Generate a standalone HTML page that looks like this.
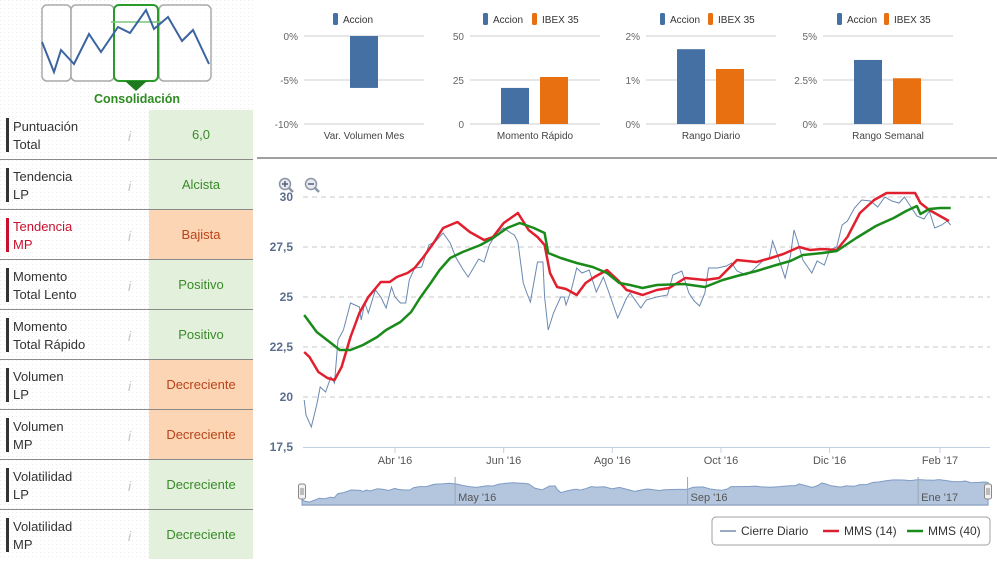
<!DOCTYPE html>
<html><head><meta charset="utf-8">
<style>
html,body{margin:0;padding:0;background:#fff;}
body{width:997px;height:559px;overflow:hidden;font-family:"Liberation Sans",sans-serif;}
svg text{font-family:"Liberation Sans",sans-serif;}
</style></head>
<body>
<svg id="root" width="997" height="559" viewBox="0 0 997 559" xmlns="http://www.w3.org/2000/svg">
  <defs>
    <pattern id="dots" width="4" height="4" patternUnits="userSpaceOnUse"><rect x="0" y="0" width="1" height="1" fill="#ececec"/></pattern>
  </defs>
  <rect x="0" y="0" width="255" height="559" fill="url(#dots)"/>
  <g>
    <rect x="42" y="5" width="29" height="76" rx="5" fill="#fff" fill-opacity="0.6" stroke="#aaa" stroke-width="1.5"/>
    <rect x="71" y="5" width="43" height="76" rx="5" fill="#fff" fill-opacity="0.6" stroke="#aaa" stroke-width="1.5"/>
    <rect x="159" y="5" width="52" height="76" rx="5" fill="#fff" fill-opacity="0.6" stroke="#aaa" stroke-width="1.5"/>
    <rect x="114" y="5" width="44" height="76" rx="5" fill="#fff" fill-opacity="0.6" stroke="#2a9a2a" stroke-width="2"/>
    <line x1="111" y1="22" x2="161" y2="22" stroke="#7cc47c" stroke-width="1.5"/>
    <polyline points="42,42 54,72 61,50 74,64 89,34 101,52 118,27 130,33 146,10 154,29 168,17 182,41 193,30 209,64" fill="none" stroke="#3a64a0" stroke-width="2"/>
    <polygon points="125,81 147,81 136,91" fill="#1e7a1e"/>
    <text x="137" y="103" text-anchor="middle" font-size="12.5" font-weight="bold" fill="#2e8b22">Consolidación</text>
  </g>
  <g id="table"></g>
  <g id="mini"></g>
  <line x1="257" y1="158" x2="997" y2="158" stroke="#a0a0a0" stroke-width="2"/>
  <g>
    <circle cx="285" cy="184" r="5.5" fill="#e8eaf0" stroke="#8a94a8" stroke-width="1.5"/>
    <line x1="289" y1="188" x2="293" y2="192" stroke="#8a94a8" stroke-width="2.5"/>
    <line x1="282" y1="184" x2="288" y2="184" stroke="#55607a" stroke-width="1.5"/>
    <line x1="285" y1="181" x2="285" y2="187" stroke="#55607a" stroke-width="1.5"/>
  </g>
  <g>
    <circle cx="311" cy="184" r="5.5" fill="#e8eaf0" stroke="#8a94a8" stroke-width="1.5"/>
    <line x1="315" y1="188" x2="319" y2="192" stroke="#8a94a8" stroke-width="2.5"/>
    <line x1="308" y1="184" x2="314" y2="184" stroke="#55607a" stroke-width="1.5"/>
  </g>
  <g id="main"></g>
  <g id="nav"></g>
  <g>
    <rect x="712" y="517" width="278" height="28" rx="4" fill="#fff" stroke="#a0a0a0"/>
    <g>
      <line x1="720" y1="531" x2="736" y2="531" stroke="#9aaac0" stroke-width="2"/>
      <text x="741" y="535" font-size="12" fill="#333">Cierre Diario</text>
    </g>
    <g>
      <line x1="823" y1="531" x2="839" y2="531" stroke="#d8202e" stroke-width="2.5"/>
      <text x="844" y="535" font-size="12" fill="#333">MMS (14)</text>
    </g>
    <g>
      <line x1="907" y1="531" x2="923" y2="531" stroke="#1a8a1a" stroke-width="2.5"/>
      <text x="928" y="535" font-size="12" fill="#333">MMS (40)</text>
    </g>
  </g>
</svg>
<script>
const rowLabels1 = ["Puntuación","Tendencia","Tendencia","Momento","Momento","Volumen","Volumen","Volatilidad","Volatilidad"];
const rowLabels2 = ["Total","LP","MP","Total Lento","Total Rápido","LP","MP","LP","MP"];
const rowValues = ["6,0","Alcista","Bajista","Positivo","Positivo","Decreciente","Decreciente","Decreciente","Decreciente"];
const rowGood = [1,1,0,1,1,0,0,1,1];

const miniTitles = ["Var. Volumen Mes","Momento Rápido","Rango Diario","Rango Semanal"];
const miniAccion = [-5.9,20.5,1.70,3.64];
const miniIbex = [null,26.7,1.25,2.6];
const miniTickLabels = [["0%","-5%","-10%"],["50","25","0"],["2%","1%","0%"],["5%","2.5%","0%"]];
const miniMax = [0,50,2,5];
const miniMin = [-10,0,0,0];

const closeDays = [0,1,4,7,9,12,15,17,19,22,26,31,32,34,36,40,43,46,49,51,54,57,59,62,66,70,74,78,82,85,89,92,95,98,101,104,108,112,116,118,120,123,125,127,131,134,135,137,140,144,146,147,150,153,156,160,164,168,172,176,181,183,189,192,198,204,207,212,216,219,222,225,227,232,237,240,243,248,252,258,261,263,266,270,273,275,277,280,285,288,292,295,299,302,305,309,313,318,322,326,330,334,337,340,344,348,351,354,358,361,363];
const closeVals = [19.85,19.1,18.5,19.6,20.5,20.25,21,20.7,22.85,23.35,24.7,24.5,23.85,24.7,24.2,25.35,25,24.45,25.5,25,24.7,24.7,25.85,26.45,26.5,27.6,27.8,28.2,27.7,27,26.4,26,26.45,26.9,26.75,27.6,28.2,28.45,28.2,28.1,27.75,25.7,25.2,24.75,26.75,26.75,25,23.35,24.2,25,25,24.6,25.35,26.45,26.2,26.35,25.25,26,25,23.95,24.95,25.2,24.45,24.85,25,25.1,26.1,26.3,25.2,24.8,24.55,25.2,26.45,26.45,26.55,26.7,26.3,26.1,26.35,26.85,26.9,27.8,27.05,25.95,27.05,28.35,27.8,26.85,26.2,26.8,26.6,27.35,27.5,28.6,28.8,29.45,29.85,29.8,29.5,30,29.8,29.7,30,29.6,29.05,28.9,29.3,28.45,28.6,28.8,28.6];
const mms14Days = [0,3,8,13,17,21,26,31,36,43,48,52,58,62,67,73,78,86,93,101,106,112,120,126,131,135,138,142,147,153,158,163,170,176,181,183,190,198,205,214,225,233,243,254,262,269,278,284,291,299,305,312,320,327,334,343,346,351,357,362];
const mms14Vals = [22.25,22,21.25,20.95,20.85,21.5,23,24.2,25,25.75,25.75,26,26.2,26.45,27,27.75,28.45,28.75,28.25,27.85,28,28.7,29.2,28.35,28,27.6,26.2,25.5,25.4,25.1,25.7,26,26.35,25.85,25.35,25.3,25.1,25.35,25.45,25.95,25.85,25.95,26.85,26.75,26.95,27.15,27.5,27.35,27.4,27.35,28,29.2,29.85,30.2,30.2,30.2,29.7,29.35,29.05,28.8];
const mms40Days = [0,7,15,20,26,33,41,46,54,60,65,71,76,82,89,99,106,114,121,129,135,137,144,153,162,170,177,183,190,198,213,225,235,243,254,265,273,280,291,299,310,321,331,338,344,346,351,357,363];
const mms40Vals = [24.1,23.25,22.7,22.35,22.35,22.6,23,23.35,23.75,24.25,24.95,25.7,26.35,26.95,27.25,27.6,27.95,28.45,28.7,28.45,28.2,27.2,26.95,26.7,26.5,26.2,25.7,25.6,25.45,25.6,25.65,25.5,25.85,26.05,26.3,26.6,26.8,27.1,27.2,27.3,27.95,28.55,28.95,29.3,29.55,29.15,29.4,29.45,29.45];
const yTicks = [30,27.5,25,22.5,20,17.5];
const yTickLabels = ["30","27,5","25","22,5","20","17,5"];
const xTickDays = [51,112,173,234,295,357];
const xTickLabels = ["Abr '16","Jun '16","Ago '16","Oct '16","Dic '16","Feb '17"];
const navTickDays = [81,204,326];
const navTickLabels = ["May '16","Sep '16","Ene '17"];

const NS = "http://www.w3.org/2000/svg";
function mk(parent, tag, attrs, text){
  const el = document.createElementNS(NS, tag);
  for (const k in attrs) el.setAttribute(k, attrs[k]);
  if (text !== undefined) el.textContent = text;
  parent.appendChild(el);
  return el;
}

const tbl = document.getElementById('table');
for (let i=0;i<rowValues.length;i++){
  const y0 = 110 + i*50;
  const g = mk(tbl,'g',{});
  
  
  const red = (i===2);
  mk(g,'rect',{x:149,y:y0,width:104,height:50,fill: rowGood[i] ? '#e2f0dc' : '#fcd5b5'});
  mk(g,'rect',{x:6,y:y0+8,width:3,height:34,fill: red ? '#c8102e' : '#333'});
  mk(g,'text',{x:13,y:y0+21,'font-size':13,fill: red ? '#c8102e' : '#333'}, rowLabels1[i]);
  mk(g,'text',{x:13,y:y0+39,'font-size':13,fill: red ? '#c8102e' : '#333'}, rowLabels2[i]);
  const info = mk(g,'text',{x:128,y:y0+31,'font-size':14,'font-style':'italic','font-family':'Liberation Serif',fill:'#c4c4c4'}, 'i');
  
  
  const vt = mk(g,'text',{x:201,y:y0+29,'font-size':13,'text-anchor':'middle',fill: rowGood[i] ? '#3a8a2a' : '#b8441a'}, rowValues[i]);
  
  
  if (i>0) mk(g,'line',{x1:0,y1:y0-0.5,x2:253,y2:y0-0.5,stroke:'#8a8a8a','stroke-width':1});
}

const mini = document.getElementById('mini');
const miniGrid = [[304,424],[470,600],[646,776],[823,953]];
const miniLeg = [[333,null],[483,532],[660,708],[837,884]];
for (let c=0;c<4;c++){
  const g = mk(mini,'g',{});
  
  
  const [gx0,gx1] = miniGrid[c];
  const yS = v => 36 + (miniMax[c]-v)/(miniMax[c]-miniMin[c])*88;
  for (let t=0;t<3;t++){
    const yy = 36 + t*44;
    mk(g,'line',{x1:gx0,y1:yy,x2:gx1,y2:yy,stroke:'#c8ccd2','stroke-width':1});
    mk(g,'text',{x:gx0-6,y:yy+4,'font-size':10,'text-anchor':'end',fill:'#666'}, miniTickLabels[c][t]);
  }
  const base = yS(Math.max(miniMin[c], Math.min(0, miniMax[c])));
  const mid = (gx0+gx1)/2;
  const bw = 28;
  const hasI = miniIbex[c] !== null;
  const ya = yS(miniAccion[c]);
  const b1 = mk(g,'rect',{x:hasI?mid-34:350 - (364-mid),y:Math.min(ya,base),width:bw,height:Math.abs(ya-base),fill:'#4470a4'});
  
  
  if (hasI){
    const yi = yS(miniIbex[c]);
    const b2 = mk(g,'rect',{x:mid+5,y:Math.min(yi,base),width:bw,height:Math.abs(yi-base),fill:'#e87010'});
    
    
  }
  mk(g,'text',{x:mid,y:139,'font-size':10,'text-anchor':'middle',fill:'#444'}, miniTitles[c]);
  const lx = miniLeg[c][0];
  mk(g,'rect',{x:lx,y:13,width:5,height:12,rx:1.5,fill:'#4470a4'});
  mk(g,'text',{x:lx+10,y:23,'font-size':10,fill:'#333'}, 'Accion');
  if (miniLeg[c][1]!==null){
    const lx2 = miniLeg[c][1];
    mk(g,'rect',{x:lx2,y:13,width:5,height:12,rx:1.5,fill:'#e87010'});
    mk(g,'text',{x:lx2+10,y:23,'font-size':10,fill:'#333'}, 'IBEX 35');
  }
}

const main = document.getElementById('main');
const xS = d => 304.2 + d*1.781;
const yS = v => 197 + (30 - v)*20;
yTicks.forEach((v,i)=>{
  if (v>17.5){
    const gl = mk(main,'line',{x1:303,y1:yS(v),x2:990,y2:yS(v),stroke:'#c8c8c8','stroke-dasharray':'5,4','stroke-width':1});
    
    
  }
  const t = mk(main,'text',{x:293,y:yS(v)+4,'font-size':12,'font-weight':'bold','text-anchor':'end',fill:'#5a6e8c'}, yTickLabels[i]);
  
  
});
mk(main,'line',{x1:303,y1:447.5,x2:990,y2:447.5,stroke:'#c0d0e0','stroke-width':1});
xTickDays.forEach((d,i)=>{
  mk(main,'line',{x1:xS(d),y1:447,x2:xS(d),y2:453,stroke:'#c0d0e0'});
  const t = mk(main,'text',{x:xS(d),y:464,'font-size':11,'text-anchor':'middle',fill:'#555'}, xTickLabels[i]);
  
  
});
function path(days, vals, xf, yf){
  return days.map((d,i)=>(i?'L':'M')+xf(d).toFixed(1)+','+yf(vals[i]).toFixed(1)).join(' ');
}
const pc = mk(main,'path',{d:path(closeDays,closeVals,xS,yS),fill:'none',stroke:'#6a88b0','stroke-width':1});


const pr = mk(main,'path',{d:path(mms14Days,mms14Vals,xS,yS),fill:'none',stroke:'#e0202e','stroke-width':2.5,'stroke-linejoin':'round'});


const pg = mk(main,'path',{d:path(mms40Days,mms40Vals,xS,yS),fill:'none',stroke:'#1a8a1a','stroke-width':2.5,'stroke-linejoin':'round'});



const nav = document.getElementById('nav');
const nX = d => 302 + d*1.89;
const nY = v => 505 - (v-17)*1.95;
mk(nav,'rect',{x:302,y:477,width:686,height:28,fill:'#fff'});
const lastX = nX(closeDays[closeDays.length-1]);
const area = 'M'+nX(0)+',505 '+path(closeDays,closeVals,nX,nY).replace(/^M/,'L')+' L'+lastX.toFixed(1)+',505 Z';
const na = mk(nav,'path',{d:area,fill:'#b4c6de',stroke:'#7f9cc4','stroke-width':1});


navTickDays.forEach((d,i)=>{
  mk(nav,'line',{x1:nX(d),y1:477,x2:nX(d),y2:505,stroke:'#9aa6b8','stroke-width':1});
  const t = mk(nav,'text',{x:nX(d)+3,y:501,'font-size':11,fill:'#555'}, navTickLabels[i]);
  
  
});
mk(nav,'line',{x1:302,y1:505.5,x2:988,y2:505.5,stroke:'#b0bccc'});
[302,988].forEach(hx=>{
  const h = mk(nav,'rect',{x:hx-3.5,y:484,width:7,height:15,rx:2,fill:'#f2f2f2',stroke:'#888'});
  
  
  mk(nav,'line',{x1:hx-1,y1:488,x2:hx-1,y2:495,stroke:'#888'});
  mk(nav,'line',{x1:hx+1,y1:488,x2:hx+1,y2:495,stroke:'#888'});
});
</script>
</body></html>
